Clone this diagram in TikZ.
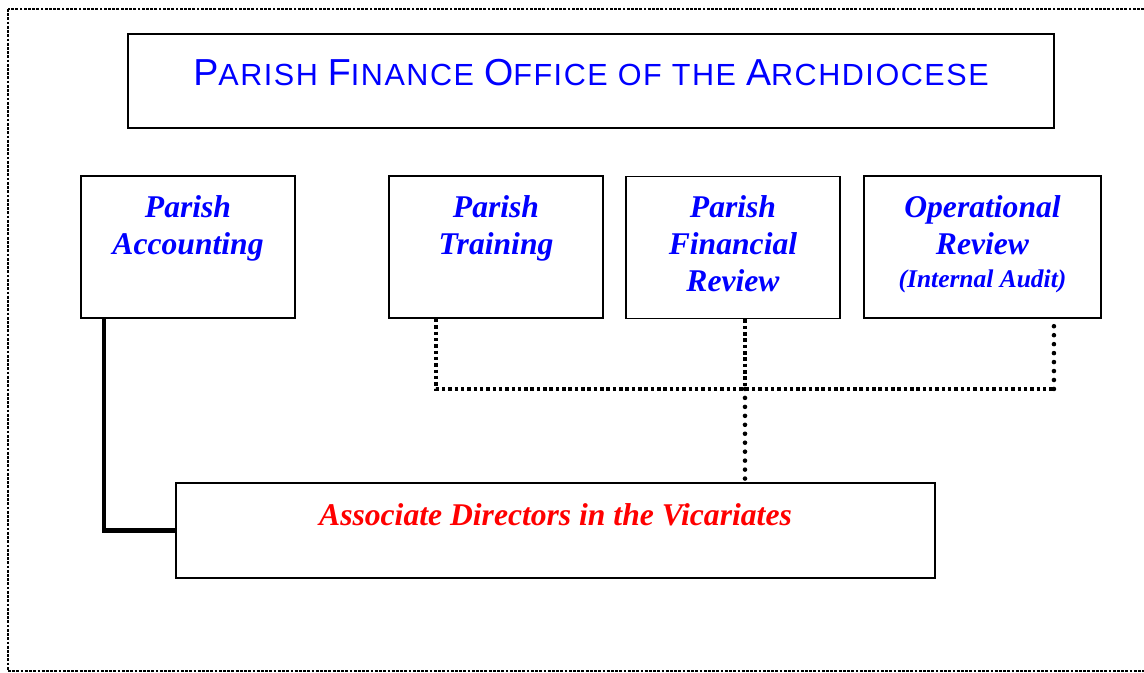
\documentclass[tikz,border=0pt]{standalone}
\usepackage{fontspec}
\setmainfont{Liberation Serif}
\newfontfamily\headfont[LetterSpace=5]{Liberation Sans}
\usetikzlibrary{positioning}
\newcommand\tcap[1]{{\fontsize{21.4}{24}\selectfont #1}}

\begin{document}
\begin{tikzpicture}
				[x=0.02cm,y=-0.02cm,
				unit/.style={draw=black,line width=1.1pt,minimum width=4.28cm,minimum height=2.84cm},
				unittext/.style={inner sep=0pt,align=center,text=blue,font=\bfseries\itshape\fontsize{18}{21}\selectfont},
				sqdots/.style={line width=2pt,dash pattern=on 2pt off 1.6pt},
				rddots/.style={line width=2.6pt,line cap=round,dash pattern=on 0pt off 5.1pt},
				frame/.style={line width=1.7pt,dash pattern=on 1.6pt off 0.8pt}]
				
				\useasboundingbox (0,0) rectangle (1144,673);
				\draw[frame] (8,9) rectangle (1160,671);
				
				\node[draw,line width=1.1pt,minimum width=18.52cm,minimum height=1.88cm] (T) at (591,81) {};
				\node[inner sep=0pt,text=blue,font=\headfont\fontsize{17.4}{20}\selectfont,anchor=base] (T-t)
					at ([yshift=-0.08cm]T.center) {\tcap{P}ARISH \tcap{F}INANCE \tcap{O}FFICE OF THE \tcap{A}RCHDIOCESE};
				
				\node[unit] (PA) at (188,247) {};
				\node[unittext,below=0.4cm of PA.north] (PA-t) {Parish\\Accounting};
				\node[unit] (PT) at (496,247) {};
				\node[unittext,below=0.4cm of PT.north] (PT-t) {Parish\\Training};
				\node[unit] (PF) at (733,247.5) {};
				\node[unittext,below=0.4cm of PF.north] (PF-t) {Parish\\Financial\\Review};
				\node[unit,minimum width=4.74cm] (OR) at (982.5,247) {};
				\node[unittext,below=0.4cm of OR.north] (OR-t)
					{Operational\\Review\\[-2pt]{\fontsize{14.5}{17}\selectfont(Internal Audit)}};
				
				\node[draw,line width=1.1pt,minimum width=15.18cm,minimum height=1.9cm] (AD) at (555.5,530.5) {};
				\node[unittext,text=red,below=0.42cm of AD.north] (AD-t) {Associate Directors in the Vicariates};
				
				\draw[line width=2.3pt] ([xshift=0.48cm]PA.south west) |- (AD.west);
				
				\path ([xshift=-0.96cm]OR.south east) ++(0,70) coordinate (BR);
				\coordinate (PFs) at ([xshift=0.24cm]PF.south);
				\draw[sqdots] ([xshift=0.96cm]PT.south west) |- (BR);
				\draw[rddots] (BR) -- ([xshift=-0.96cm]OR.south east);
				\draw[sqdots] (PFs) -- (PFs |- BR);
				\draw[rddots] (PFs |- BR) -- (PFs |- AD.north);
			\end{tikzpicture}
\end{document}
